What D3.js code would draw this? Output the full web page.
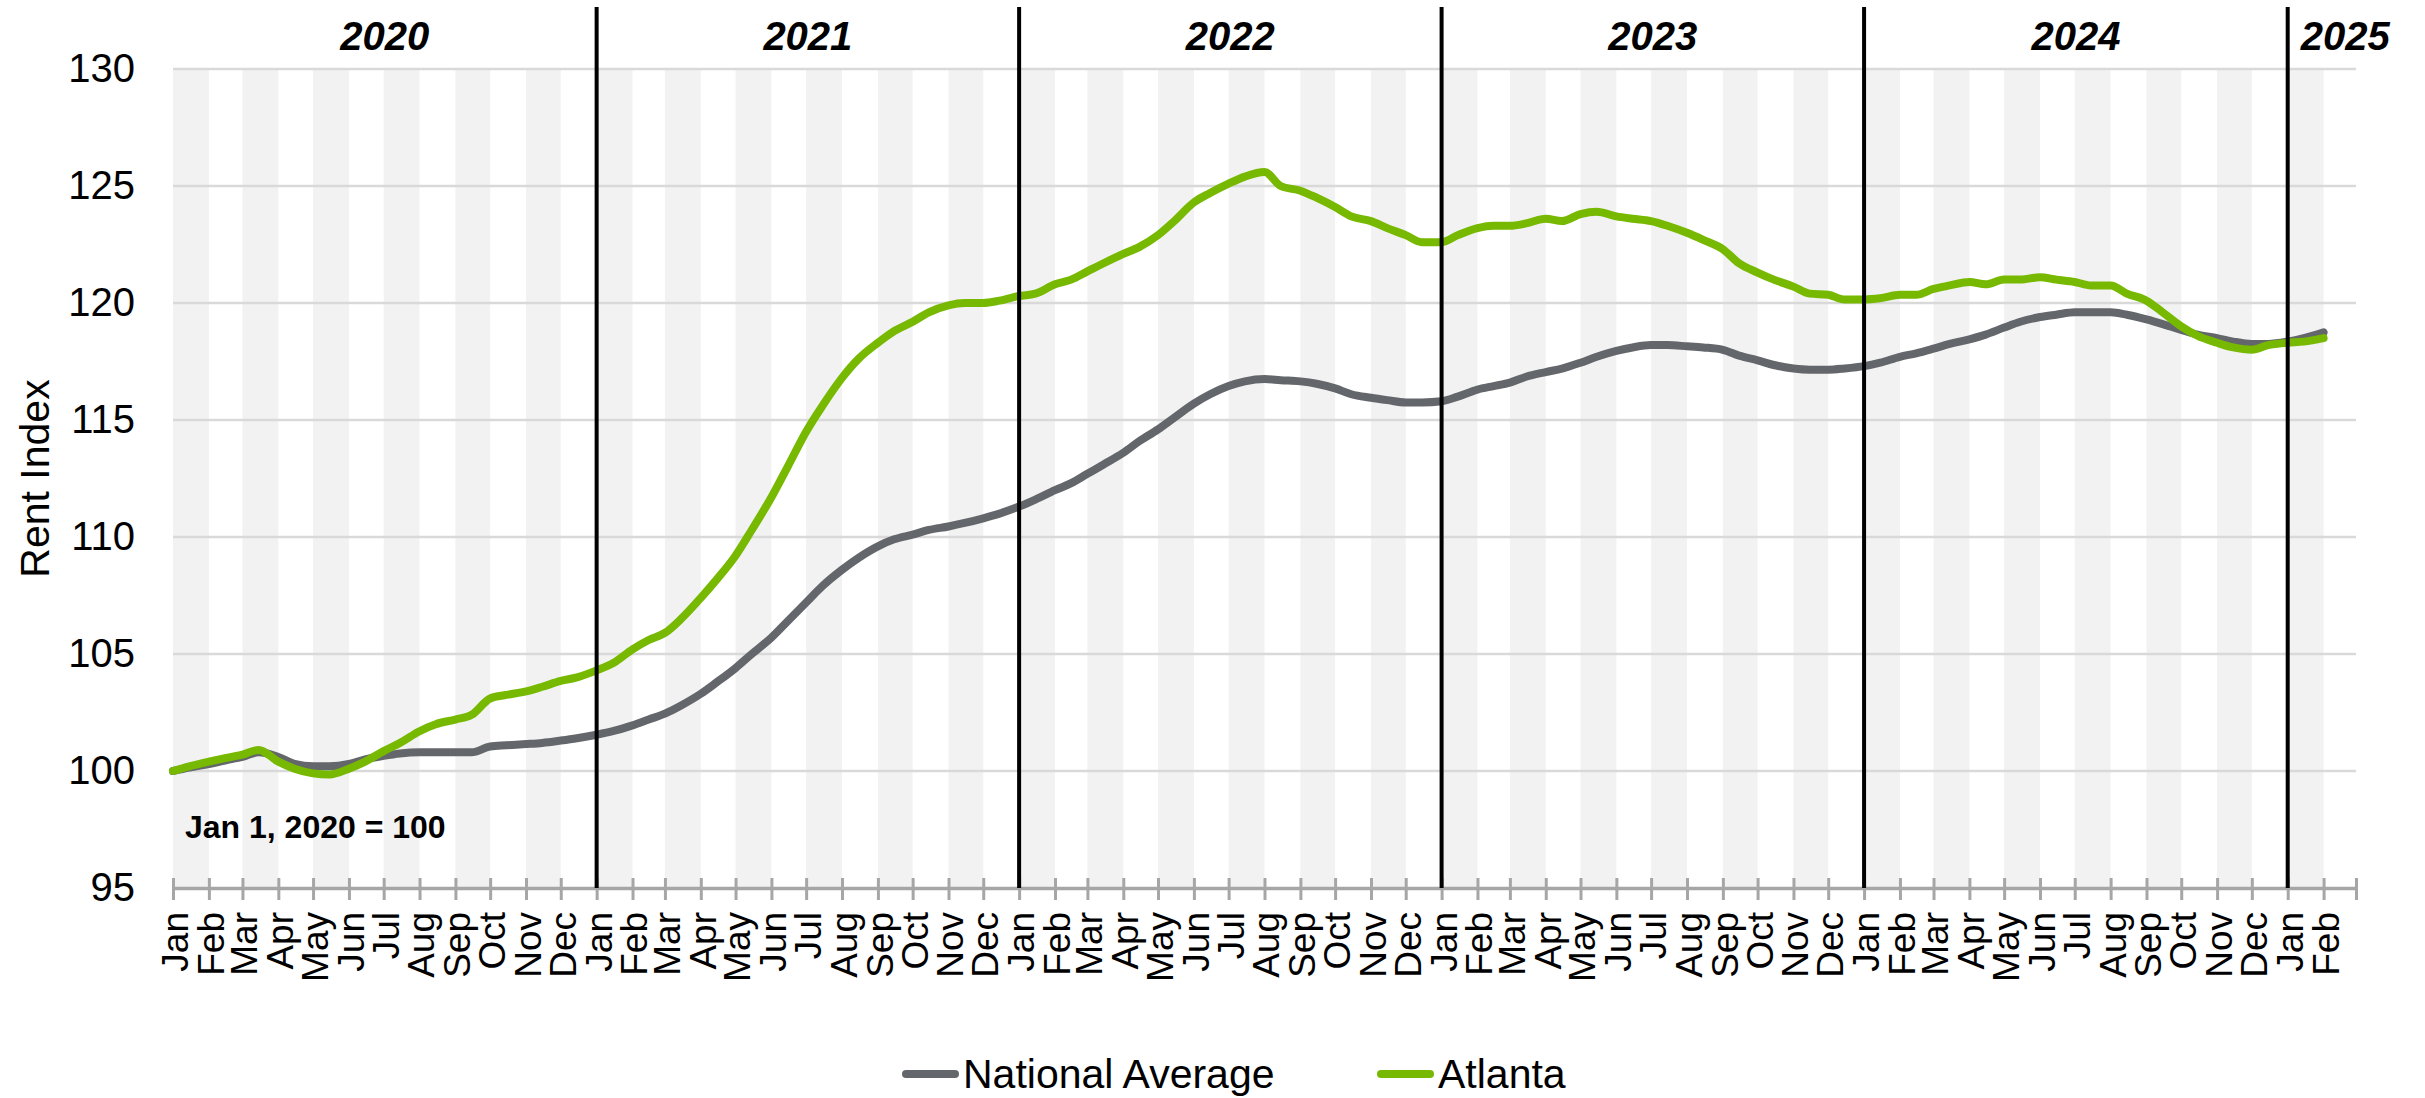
<!DOCTYPE html>
<html>
<head>
<meta charset="utf-8">
<script src="https://cdn.jsdelivr.net/npm/d3@7"></script>
<style>
  html, body { margin: 0; padding: 0; background: #ffffff; }
  svg { display: block; font-family: "Liberation Sans", Arial, sans-serif; }
</style>
</head>
<body>
<svg id="chart" width="2425" height="1098"></svg>
<script>
// Rent index, Jan 1, 2020 = 100, sampled on the 1st and 15th of each month
const startDate = new Date(2020, 0, 1);
const lastDate = new Date(2025, 1, 1);
const axisEnd = new Date(2025, 2, 1);

const nationalAverage = [
  // 2020
  100.0, 100.15, 100.3, 100.45, 100.6, 100.8, 100.6, 100.3, 100.2, 100.2, 100.3, 100.5,
  100.65, 100.75, 100.8, 100.8, 100.8, 100.8, 101.05, 101.1, 101.15, 101.2, 101.3, 101.4,
  // 2021
  101.55, 101.7, 101.95, 102.2, 102.45, 102.8, 103.3, 103.8, 104.4, 105.0, 105.7, 106.4,
  107.2, 107.9, 108.6, 109.1, 109.6, 109.9, 110.1, 110.3, 110.45, 110.6, 110.8, 111.0,
  // 2022
  111.3, 111.6, 112.0, 112.3, 112.7, 113.1, 113.6, 114.1, 114.6, 115.1, 115.7, 116.1,
  116.45, 116.65, 116.75, 116.7, 116.65, 116.55, 116.35, 116.1, 115.95, 115.85, 115.75, 115.75,
  // 2023
  115.8, 116.0, 116.3, 116.45, 116.6, 116.85, 117.05, 117.2, 117.45, 117.7, 117.95, 118.1,
  118.2, 118.2, 118.15, 118.1, 118.0, 117.75, 117.55, 117.35, 117.2, 117.15, 117.15, 117.2,
  // 2024
  117.3, 117.45, 117.7, 117.85, 118.05, 118.25, 118.45, 118.65, 118.95, 119.2, 119.4, 119.5,
  119.6, 119.6, 119.6, 119.5, 119.3, 119.1, 118.85, 118.65, 118.5, 118.35, 118.25, 118.25,
  // 2025
  118.35, 118.5, 118.75
];

const atlanta = [
  // 2020
  100.0, 100.2, 100.4, 100.55, 100.7, 100.9, 100.4, 100.1, 99.9, 99.85, 100.1, 100.4,
  100.85, 101.2, 101.7, 102.0, 102.2, 102.4, 103.1, 103.25, 103.4, 103.6, 103.85, 104.0,
  // 2021
  104.3, 104.6, 105.2, 105.6, 105.9, 106.5, 107.4, 108.2, 109.2, 110.3, 111.7, 113.0,
  114.5, 115.6, 116.8, 117.6, 118.3, 118.8, 119.2, 119.6, 119.9, 120.0, 120.0, 120.1,
  // 2022
  120.3, 120.4, 120.8, 121.0, 121.35, 121.7, 122.1, 122.4, 122.9, 123.5, 124.3, 124.7,
  125.1, 125.4, 125.6, 125.0, 124.8, 124.5, 124.1, 123.7, 123.5, 123.2, 122.9, 122.6,
  // 2023
  122.6, 122.9, 123.2, 123.3, 123.3, 123.4, 123.6, 123.5, 123.8, 123.9, 123.7, 123.6,
  123.5, 123.3, 123.0, 122.7, 122.3, 121.7, 121.3, 121.0, 120.7, 120.4, 120.35, 120.15,
  // 2024
  120.15, 120.2, 120.35, 120.35, 120.6, 120.75, 120.9, 120.8, 121.0, 121.0, 121.1, 121.0,
  120.9, 120.75, 120.75, 120.4, 120.1, 119.6, 119.0, 118.6, 118.3, 118.1, 118.0, 118.2,
  // 2025
  118.3, 118.35, 118.5
];

const yTicks = [95, 100, 105, 110, 115, 120, 125, 130];
const monthNames = ["Jan", "Feb", "Mar", "Apr", "May", "Jun", "Jul", "Aug", "Sep", "Oct", "Nov", "Dec"];
const yearLabels = ["2020", "2021", "2022", "2023", "2024", "2025"];
const seriesNames = ["National Average", "Atlanta"];
const seriesColors = ["#63666a", "#76b900"];
const baseNote = "Jan 1, 2020 = 100";
const yTitle = "Rent Index";

// Sample dates: the 1st and the 15th of every month
const sampleDates = [];
d3.timeMonth.range(startDate, d3.timeDay.offset(lastDate, 1)).forEach(m => {
  sampleDates.push(m);
  if (m < lastDate) sampleDates.push(new Date(m.getFullYear(), m.getMonth(), 15));
});

const svg = d3.select("#chart");
const plot = { left: 173, right: 2356, top: 69, bottom: 888 };

const x = d3.scaleTime().domain([startDate, axisEnd]).range([plot.left, plot.right]);
const y = d3.scaleLinear().domain([95, 130]).range([plot.bottom, plot.top]);

const months = d3.timeMonth.range(startDate, d3.timeDay.offset(axisEnd, 1));
const labelledMonths = months.slice(0, -1);

// Alternating month bands
svg.append("g")
  .selectAll("rect")
  .data(labelledMonths.filter((d, i) => i % 2 === 0))
  .join("rect")
  .attr("x", d => x(d))
  .attr("width", d => x(d3.timeMonth.offset(d, 1)) - x(d))
  .attr("y", plot.top)
  .attr("height", plot.bottom - plot.top)
  .attr("fill", "#f2f2f2");

// Horizontal gridlines
svg.append("g")
  .selectAll("line")
  .data(yTicks.filter(v => v > 95))
  .join("line")
  .attr("x1", plot.left)
  .attr("x2", plot.right)
  .attr("y1", d => y(d))
  .attr("y2", d => y(d))
  .attr("stroke", "#d9d9d9")
  .attr("stroke-width", 2.5);

// Y axis labels
const yAxis = svg.append("g")
  .attr("transform", `translate(${plot.left},0)`)
  .call(d3.axisLeft(y).tickValues(yTicks).tickSize(0).tickPadding(38));
yAxis.select(".domain").remove();
yAxis.selectAll("text")
  .attr("font-size", 40)
  .attr("font-family", "'Liberation Sans', Arial, sans-serif")
  .attr("fill", "#000");

// X axis: line with crossing ticks at each month start
const xAxis = svg.append("g")
  .attr("transform", `translate(0,${plot.bottom})`)
  .call(d3.axisBottom(x).tickValues(months).tickSizeInner(12).tickSizeOuter(0).tickFormat(""));
xAxis.select(".domain").attr("stroke", "#a6a6a6").attr("stroke-width", 3.5);
xAxis.selectAll(".tick line")
  .attr("y1", -10)
  .attr("stroke", "#a6a6a6")
  .attr("stroke-width", 3);

// Month labels, rotated
svg.append("g")
  .selectAll("text")
  .data(labelledMonths)
  .join("text")
  .attr("transform", d => `translate(${x(d) + 2},912) rotate(-90)`)
  .attr("text-anchor", "end")
  .attr("dy", "0.35em")
  .attr("font-size", 37)
  .attr("fill", "#000")
  .text(d => monthNames[d.getMonth()]);

// Series lines
const line = d3.line()
  .x((d, i) => x(sampleDates[i]))
  .y(d => y(d))
  .curve(d3.curveMonotoneX);

[nationalAverage, atlanta].forEach((values, k) => {
  svg.append("path")
    .datum(values)
    .attr("fill", "none")
    .attr("stroke", seriesColors[k])
    .attr("stroke-width", 8)
    .attr("stroke-linejoin", "round")
    .attr("stroke-linecap", "round")
    .attr("d", line);
});

// Year dividers and year labels
const yearStarts = yearLabels.map(s => new Date(+s, 0, 1));
svg.append("g")
  .selectAll("line")
  .data(yearStarts.slice(1))
  .join("line")
  .attr("x1", d => x(d))
  .attr("x2", d => x(d))
  .attr("y1", 7)
  .attr("y2", plot.bottom)
  .attr("stroke", "#000")
  .attr("stroke-width", 4);

svg.append("g")
  .selectAll("text")
  .data(yearStarts)
  .join("text")
  .attr("x", (d, i) => i < yearStarts.length - 1
    ? (x(d) + x(yearStarts[i + 1])) / 2
    : x(d) + 13)
  .attr("y", 50)
  .attr("text-anchor", (d, i) => i < yearStarts.length - 1 ? "middle" : "start")
  .attr("font-size", 40)
  .attr("font-weight", "bold")
  .attr("font-style", "italic")
  .attr("fill", "#000")
  .text((d, i) => yearLabels[i]);

// Base note
svg.append("text")
  .attr("x", 185)
  .attr("y", 838)
  .attr("font-size", 32)
  .attr("font-weight", "bold")
  .attr("fill", "#000")
  .text(baseNote);

// Y axis title
svg.append("text")
  .attr("transform", `translate(49,${(plot.top + plot.bottom) / 2}) rotate(-90)`)
  .attr("text-anchor", "middle")
  .attr("font-size", 41)
  .attr("fill", "#000")
  .text(yTitle);

// Legend
const legendItems = [{ x: 906 }, { x: 1381 }];
const legend = svg.append("g");
legendItems.forEach((item, k) => {
  legend.append("line")
    .attr("x1", item.x)
    .attr("x2", item.x + 49)
    .attr("y1", 1074)
    .attr("y2", 1074)
    .attr("stroke", seriesColors[k])
    .attr("stroke-width", 8)
    .attr("stroke-linecap", "round");
  legend.append("text")
    .attr("x", item.x + 57)
    .attr("y", 1088)
    .attr("font-size", 41)
    .attr("fill", "#000")
    .text(seriesNames[k]);
});
</script>
</body>
</html>
